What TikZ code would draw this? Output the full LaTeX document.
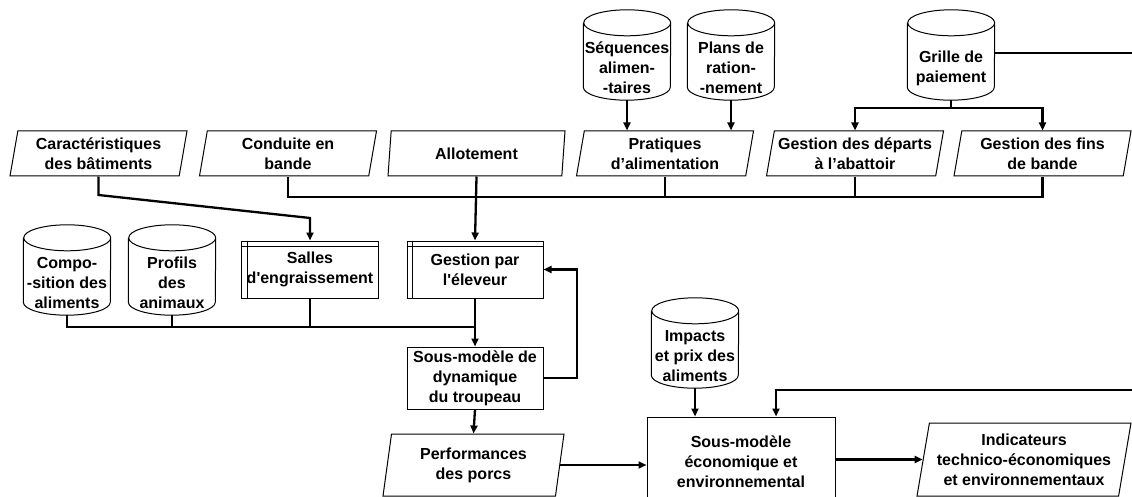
\documentclass[tikz,border=0pt]{standalone}
\usepackage{fontspec}
\setmainfont{Liberation Sans}
\usetikzlibrary{shapes.geometric, arrows.meta, calc}
\begin{document}
\begin{tikzpicture}[x=1pt,y=-1pt,
  every node/.style={font=\fontsize{16}{20}\selectfont\bfseries, align=center, inner sep=1pt},
  para/.style={draw, line width=1pt, trapezium, trapezium left angle=77, trapezium right angle=103,
    trapezium stretches body, minimum height=45pt, minimum width=177pt},
  proc/.style={draw, line width=1pt, rectangle, minimum width=136pt, minimum height=57pt},
  box/.style={draw, line width=1pt, rectangle},
  cyl/.style={rectangle, minimum width=87pt, minimum height=64pt, inner sep=0pt},
  outline/.style={line width=1pt},
  conn/.style={line width=2.3pt},
  arr/.style={conn, -{Triangle[length=8pt,width=7pt]}},
  inner/.style={line width=0.8pt}
]
\path[use as bounding box] (0,0) rectangle (1132,497);
\clip (0,0) rectangle (1132,497);

% cylinders (text body; outline drawn below)
\node[cyl] (seq) at (627,68) {Séquences\\alimen-\\-taires};
\node[cyl] (plans) at (731,68) {Plans de\\ration-\\-nement};
\node[cyl] (grille) at (951,68) {Grille de\\paiement};
\node[cyl] (compo) at (67,283) {Compo-\\-sition des\\aliments};
\node[cyl] (prof) at (172,283) {Profils\\des\\animaux};
\node[cyl] (imp) at (695,356) {Impacts\\et prix des\\aliments};
\foreach \n in {seq,plans,grille,compo,prof,imp} {
  \draw[outline] ([yshift=13pt]\n.north west) -- ([yshift=13pt]\n.south west)
    arc[start angle=180, end angle=360, x radius=43.5pt, y radius=13pt]
    -- ([yshift=13pt]\n.north east)
    arc[start angle=0, end angle=360, x radius=43.5pt, y radius=13pt];
}

% parallelograms
\node[para] (caract) at (98.5,153.5) {Caractéristiques\\des bâtiments};
\node[para] (cond) at (288,153.5) {Conduite en\\bande};
\node[para] (allot) at (476.5,153.5) {Allotement};
\node[para] (prat) at (665,153.5) {Pratiques\\d’alimentation};
\node[para] (dep) at (855,153.5) {Gestion des départs\\à l’abattoir};
\node[para] (fins) at (1042.5,153.5) {Gestion des fins\\de bande};
\node[para, minimum height=62pt, minimum width=181pt] (perf) at (473.5,465) {Performances\\des porcs};
\node[para, minimum height=73pt, minimum width=214pt] (ind) at (1024,459.5) {Indicateurs\\technico-économiques\\et environnementaux};

% process boxes
\node[proc, minimum width=137pt] (salles) at (310,269.5) {Salles\\d\textquotesingle engraissement};
\node[proc] (gest) at (475,269.5) {Gestion par\\l\textquotesingle éleveur};
\foreach \n in {salles,gest} {
  \draw[inner] ([xshift=6pt]\n.north west) -- ([xshift=6pt]\n.south west);
  \draw[inner] ([yshift=-6pt]\n.north west) -- ([yshift=-6pt]\n.north east);
}
\node[box, minimum width=136pt, minimum height=62pt] (sous) at (475,378) {Sous-modèle de\\dynamique\\du troupeau};
\node[box, minimum width=188pt, minimum height=90pt] (eco) at (741,462) {Sous-modèle\\économique et\\environnemental};

% coordinates
\coordinate (k1) at (98.5,195);
\coordinate (k2) at (310,218);
\coordinate (bus) at (476.5,197);
\coordinate (gb) at (951,108);
\coordinate (gR) at (1132,53);
\coordinate (b2) at (475,327);
\coordinate (fbx) at (577,378);
\coordinate (fR) at (1132,390);

% connectors top
\draw[arr] (seq.south) -- (seq.south |- prat.north);
\draw[arr] (plans.south) -- (plans.south |- prat.north);
\draw[conn] (grille.south) -- (gb);
\draw[arr] (gb) -| (dep.north);
\draw[arr] (gb) -| (fins.north);
\draw[conn] (gR -| grille.east) -- (gR);

\draw[arr] (caract.south) -- (k1) -- (k2) -- (salles.north);
\draw[conn] (cond.south) |- (bus);
\draw[conn] (fins.south) |- (bus);
\draw[conn] (prat.south) -- (prat.south |- bus);
\draw[conn] (dep.south) -- (dep.south |- bus);
\draw[arr] (allot.south) -- (gest.north);

% connectors middle
\draw[conn] (compo.south) |- (b2);
\draw[conn] (prof.south) -- (prof.south |- b2);
\draw[conn] (salles.south) -- (salles.south |- b2);
\draw[arr] (gest.south) -- (sous.north);
\draw[arr] (sous.east) -- (fbx) |- (gest.east);
\draw[arr] (sous.south) -- (perf.north);

% connectors bottom
\draw[arr] (imp.south) -- (imp.south |- eco.north);
\draw[arr] (perf.east) -- (perf.east -| eco.west);
\draw[arr] (ind.west -| eco.east) -- (ind.west);
\draw[arr] (fR) -| ([xshift=35pt]eco.north);
\end{tikzpicture}
\end{document}
